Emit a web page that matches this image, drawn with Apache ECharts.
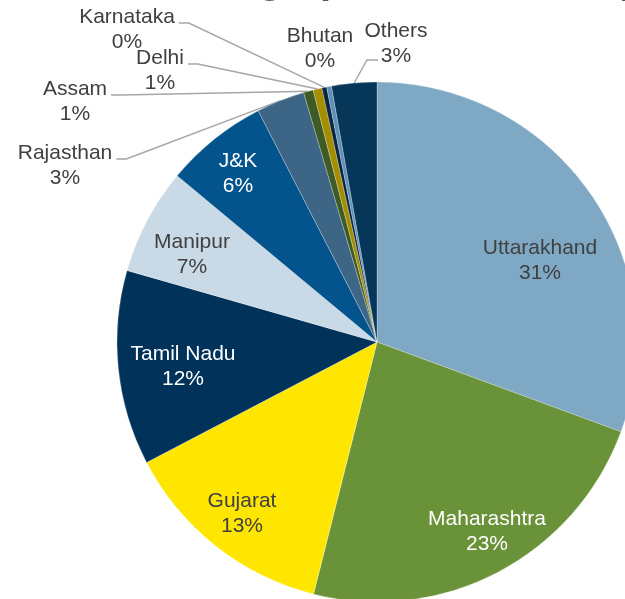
<!DOCTYPE html>
<html>
<head>
<meta charset="utf-8">
<script src="https://cdn.jsdelivr.net/npm/echarts@6/dist/echarts.min.js"></script>
<style>
  html, body { margin: 0; padding: 0; background: #fff; }
  #main { width: 625px; height: 599px; }
</style>
</head>
<body>
<div id="main"></div>
<script>
// 各地区占比（%）
const regions = ['Uttarakhand', 'Maharashtra', 'Gujarat', 'Tamil Nadu', 'Manipur', 'J&K',
  'Rajasthan', 'Assam', 'Delhi', 'Karnataka', 'Bhutan', 'Others']
const shares = [30.6, 23.3, 13.4, 12.1, 6.6, 6.4, 3.0, 0.6, 0.55, 0.3, 0.3, 2.8]
const sliceColors = ['#7FA8C5', '#6A9238', '#FFE600', '#013259', '#C9DAE6', '#03548C',
  '#3D6586', '#3E5B25', '#A38E00', '#0B2640', '#5E90BA', '#063658']
const darkLabels = ['Uttarakhand', 'Gujarat', 'Manipur'] // 浅色扇区用深色字
const outsideLabels = ['Rajasthan', 'Assam', 'Delhi', 'Karnataka', 'Bhutan', 'Others']

// 标签中心位置
const labelSpots = {
  'Uttarakhand': [540, 261],
  'Maharashtra': [487, 532],
  'Gujarat': [242, 514],
  'Tamil Nadu': [183, 367],
  'Manipur': [192, 255],
  'J&K': [238, 174],
  'Rajasthan': [65, 166],
  'Assam': [75, 102],
  'Delhi': [160, 71],
  'Karnataka': [127, 30],
  'Bhutan': [320, 49],
  'Others': [396, 44]
}

const myChart = echarts.init(document.getElementById('main'))

const pieData = regions.map((name, i) => {
  const item = {
    name,
    value: shares[i],
    itemStyle: { color: sliceColors[i] },
    label: { color: darkLabels.includes(name) ? '#404040' : '#fff' }
  }
  if (outsideLabels.includes(name)) {
    item.label = { position: 'outside', color: '#404040' }
    item.labelLine = { show: name !== 'Bhutan' }
  }
  return item
})

const chartOptions = {
  animation: false,
  title: {
    text: 'Geographical Mix of Top Exposures',
    left: 175,
    top: -43,
    textStyle: { fontFamily: 'Liberation Sans, Arial', fontSize: 40, fontWeight: 'bold', color: '#595959' }
  },
  series: [{
    type: 'pie',
    center: [377, 342],
    radius: 260,
    startAngle: 90,
    clockwise: true,
    avoidLabelOverlap: false,
    emphasis: { disabled: true },
    itemStyle: { borderColor: 'rgba(255,255,255,0.5)', borderWidth: 0.5 },
    label: {
      show: true,
      position: 'inside',
      fontFamily: 'Liberation Sans, Arial',
      fontSize: 21,
      lineHeight: 25,
      formatter: p => p.name + '\n' + Math.round(p.percent) + '%'
    },
    labelLine: {
      length: 10,
      length2: 10,
      lineStyle: { color: '#A6A6A6', width: 1.5 }
    },
    labelLayout: function (params) {
      const name = regions[params.dataIndex]
      const spot = labelSpots[name]
      if (!spot) return {}
      const res = { x: spot[0], y: spot[1], align: 'center', verticalAlign: 'middle' }
      const pts = params.labelLinePoints
      if (pts && pts.length && name !== 'Bhutan') {
        const w = params.labelRect.width
        let end, bend
        if (name === 'Others') {
          // 引线接到第二行左侧
          end = [spot[0] - 18, spot[1] + 16]
          bend = [end[0] - 11, end[1]]
        } else {
          end = [spot[0] + w / 2 + 4, spot[1] - 7]
          bend = [end[0] + 10, end[1]]
        }
        res.labelLinePoints = [pts[0], bend, end]
      }
      return res
    },
    data: pieData
  }]
}

myChart.setOption(chartOptions)
</script>
</body>
</html>
